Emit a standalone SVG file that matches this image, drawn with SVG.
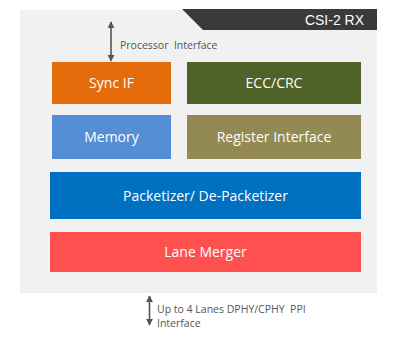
<svg xmlns="http://www.w3.org/2000/svg" width="400" height="348" viewBox="0 0 400 348">
<style>
.box{stroke:none}
.lbl{font-family:"Open Sans","Noto Sans",sans-serif;font-size:14px;fill:#ffffff;text-anchor:middle}
.note{font-family:"Open Sans","Noto Sans",sans-serif;font-size:10.5px;fill:#555555;white-space:pre}
.arr{stroke:#555555;stroke-width:1.6;fill:none}
</style>
<defs>
<marker id="ah" viewBox="0 0 10 10" refX="9" refY="5" markerWidth="4.5" markerHeight="4.5" orient="auto-start-reverse">
<path d="M0,0 L10,5 L0,10 z" fill="#555555"/>
</marker>
</defs>
<rect width="400" height="348" fill="#ffffff"/>
<g id="panel">
<rect x="20" y="10" width="357" height="283" fill="#f1f1f1"/>
<polygon points="182,9 377,9 377,30 203,30" fill="#3a3a3a"/>
<text x="364" y="25" font-family="Liberation Sans,Arial,sans-serif" font-size="14" fill="#ffffff" text-anchor="end">CSI-2 RX</text>
</g>
<g id="connectors">
<line class="arr" x1="111" y1="22" x2="111" y2="61" marker-start="url(#ah)" marker-end="url(#ah)"/>
<line class="arr" x1="149.5" y1="296" x2="149.5" y2="325" marker-start="url(#ah)" marker-end="url(#ah)"/>
</g>
<text class="note" x="120" y="49" xml:space="preserve">Processor  Interface</text>
<text class="note" x="157" y="313" xml:space="preserve">Up to 4 Lanes DPHY/CPHY  PPI</text>
<text class="note" x="157" y="327">Interface</text>
<g id="sync-if">
<rect class="box" x="52" y="62" width="119" height="42" fill="#e46c0a"/>
<text class="lbl" x="111.5" y="88">Sync IF</text>
</g>
<g id="ecc-crc">
<rect class="box" x="187" y="62" width="174" height="42" fill="#4f6228"/>
<text class="lbl" x="274" y="88">ECC/CRC</text>
</g>
<g id="memory">
<rect class="box" x="52" y="115" width="119" height="44" fill="#558ed5"/>
<text class="lbl" x="111.5" y="142">Memory</text>
</g>
<g id="register-interface">
<rect class="box" x="187" y="115" width="174" height="44" fill="#938953"/>
<text class="lbl" x="274" y="142">Register Interface</text>
</g>
<g id="packetizer">
<rect class="box" x="50" y="172" width="311" height="47" fill="#0070c0"/>
<text class="lbl" x="205.5" y="201">Packetizer/ De-Packetizer</text>
</g>
<g id="lane-merger">
<rect class="box" x="50" y="232" width="311" height="40" fill="#ff5050"/>
<text class="lbl" x="205.5" y="257">Lane Merger</text>
</g>
</svg>
